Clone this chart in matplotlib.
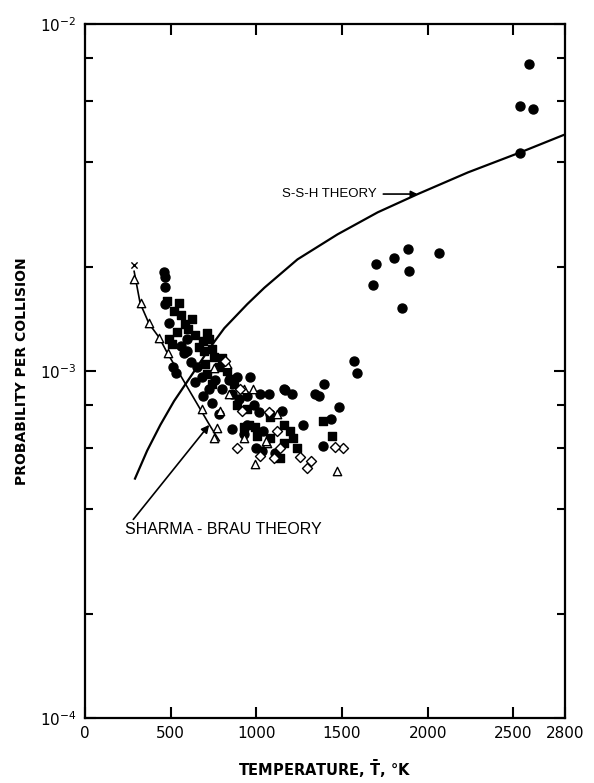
import numpy as np
import matplotlib
matplotlib.use('Agg')
import matplotlib.pyplot as plt
from matplotlib.ticker import LogLocator, NullFormatter

# filled circles
circ_T = [2590, 2540, 2615, 2540, 1700, 1805, 1885, 2065, 1890, 1680, 1850, 1567, 1590,
          1397, 1170, 1210, 1345, 1368, 1485, 1270, 1433, 1386,
          462, 465, 468, 468, 491, 597, 579, 532, 515, 965, 1023, 1076, 1164, 988, 1082,
          889, 842, 947, 1018, 1041, 947, 597, 655, 725, 1152, 1035,
          560, 620, 680, 760, 800, 860, 900, 640, 690, 742, 780, 860, 1000, 1110, 930]
circ_P = [7.7e-3, 5.8e-3, 5.7e-3, 4.25e-3, 2.03e-3, 2.12e-3, 2.25e-3, 2.19e-3, 1.95e-3, 1.77e-3, 1.52e-3, 1.07e-3, 9.9e-4,
          9.2e-4, 8.8e-4, 8.6e-4, 8.6e-4, 8.5e-4, 7.9e-4, 7.0e-4, 7.3e-4, 6.1e-4,
          1.93e-3, 1.87e-3, 1.75e-3, 1.56e-3, 1.38e-3, 1.24e-3, 1.13e-3, 9.9e-4, 1.03e-3, 9.6e-4, 8.6e-4, 8.6e-4, 8.9e-4, 8.0e-4, 7.5e-4,
          9.6e-4, 9.4e-4, 8.5e-4, 7.6e-4, 6.7e-4, 7.0e-4, 1.14e-3, 1.03e-3, 8.9e-4, 7.7e-4, 5.9e-4,
          1.18e-3, 1.06e-3, 9.6e-4, 9.4e-4, 8.9e-4, 8.6e-4, 8.3e-4, 9.3e-4, 8.5e-4, 8.1e-4, 7.5e-4, 6.8e-4, 6.0e-4, 5.8e-4, 6.6e-4]

# filled squares
sq_T = [480, 550, 520, 626, 585, 538, 491, 713, 725, 667, 696, 754, 509, 801, 713, 742,
        848, 871, 889, 947, 959, 1082, 1006, 1164, 1386, 1444, 1082, 1164, 1199, 1211, 1240, 1140,
        560, 600, 640, 690, 740, 780, 830, 700, 930, 990]
sq_P = [1.59e-3, 1.57e-3, 1.49e-3, 1.41e-3, 1.37e-3, 1.30e-3, 1.24e-3, 1.29e-3, 1.24e-3, 1.17e-3, 1.14e-3, 1.10e-3, 1.20e-3, 1.09e-3, 9.8e-4, 9.2e-4,
        9.5e-4, 9.2e-4, 8.0e-4, 7.8e-4, 7.0e-4, 6.4e-4, 6.5e-4, 6.2e-4, 7.2e-4, 6.5e-4, 7.4e-4, 7.0e-4, 6.7e-4, 6.4e-4, 6.0e-4, 5.6e-4,
        1.45e-3, 1.32e-3, 1.27e-3, 1.22e-3, 1.16e-3, 1.03e-3, 1.0e-3, 1.05e-3, 6.9e-4, 6.9e-4]

# open triangles
tri_T = [287, 327, 374, 433, 485, 754, 830, 930, 842, 684, 790, 772, 754, 930, 1064,
         994, 1123, 1058, 1468, 978]
tri_P = [1.84e-3, 1.57e-3, 1.38e-3, 1.25e-3, 1.13e-3, 1.02e-3, 1.05e-3, 8.9e-4, 8.6e-4, 7.8e-4, 7.7e-4, 6.85e-4, 6.4e-4, 6.4e-4, 6.2e-4,
         5.4e-4, 7.5e-4, 6.3e-4, 5.15e-4, 8.9e-4]

# open diamonds
dia_T = [819, 906, 918, 1076, 889, 1023, 1123, 1105, 1503, 1456, 1257, 1298, 1316, 1140]
dia_P = [1.07e-3, 8.9e-4, 7.7e-4, 7.6e-4, 6.0e-4, 5.7e-4, 6.7e-4, 5.6e-4, 6.0e-4, 6.05e-4, 5.65e-4, 5.25e-4, 5.5e-4, 6.0e-4]

# cross
x_T = [287]
x_P = [2.02e-3]

# theory curves
ssh_T = [292, 363, 440, 520, 638, 730, 813, 947, 1047, 1240, 1474, 1708, 1942, 2234, 2544, 2790]
ssh_P = [4.9e-4, 5.9e-4, 7.0e-4, 8.2e-4, 1.0e-3, 1.17e-3, 1.33e-3, 1.56e-3, 1.74e-3, 2.1e-3, 2.48e-3,
         2.87e-3, 3.24e-3, 3.74e-3, 4.28e-3, 4.79e-3]

sb_T = [287, 322, 374, 433, 480, 597, 731, 784]
sb_P = [1.94e-3, 1.57e-3, 1.37e-3, 1.25e-3, 1.13e-3, 9.0e-4, 6.94e-4, 6.3e-4]

plt.rcParams['font.family'] = ['DejaVu Sans']

fig = plt.figure(figsize=(5.94, 7.83), dpi=100)
ax = fig.add_axes([0.143, 0.083, 0.808, 0.886])

ax.plot(ssh_T, ssh_P, color='black', lw=1.6)
ax.plot(sb_T, sb_P, color='black', lw=1.2)

ax.scatter(circ_T, circ_P, marker='o', s=42, color='black', zorder=3)
ax.scatter(sq_T, sq_P, marker='s', s=36, color='black', zorder=3)
ax.scatter(tri_T, tri_P, marker='^', s=36, facecolor='white', edgecolor='black', linewidths=1.0, zorder=4)
ax.scatter(dia_T, dia_P, marker='D', s=26, facecolor='white', edgecolor='black', linewidths=1.0, zorder=4)
ax.scatter(x_T, x_P, marker='x', s=20, color='black', linewidths=1.0, zorder=4)

ax.annotate('S-S-H THEORY', xy=(1940, 3.24e-3), xytext=(1700, 3.24e-3),
            ha='right', va='center', fontsize=9.5, family='Liberation Sans',
            arrowprops=dict(arrowstyle='-|>', color='black', lw=1.2, shrinkA=3, shrinkB=0))
ax.annotate('SHARMA - BRAU THEORY', xy=(725, 7.0e-4), xytext=(234, 3.49e-4),
            ha='left', va='center', fontsize=11.5, family='Liberation Sans',
            arrowprops=dict(arrowstyle='-|>', color='black', lw=1.2, shrinkA=0, shrinkB=0, relpos=(0, 0.5)))

ax.set_yscale('log')
ax.set_xlim(0, 2800)
ax.set_ylim(1e-4, 1e-2)

ax.set_xticks([0, 500, 1000, 1500, 2000, 2500, 2800])
ax.set_xticklabels(['0', '500', '1000', '1500', '2000', '2500', '2800'], fontsize=11)
ax.set_yticks([1e-4, 1e-3, 1e-2])
ax.set_yticklabels(['10$^{-4}$', '10$^{-3}$', '10$^{-2}$'], fontsize=11)
ax.yaxis.set_minor_locator(LogLocator(base=10, subs=[2, 4, 6, 8]))
ax.yaxis.set_minor_formatter(NullFormatter())

ax.tick_params(which='both', direction='in', top=True, right=True, width=1.5)
ax.tick_params(which='major', length=8, pad=6)
ax.tick_params(which='minor', length=6)
for s in ax.spines.values():
    s.set_linewidth(1.6)

ax.set_xlabel('TEMPERATURE, $\\mathbf{\\bar{T}}$, °K', fontsize=10.5, fontweight='bold', labelpad=12)
ax.set_ylabel('PROBABILITY PER COLLISION', fontsize=10, fontweight='bold', labelpad=8)

fig.savefig('out.png', dpi=100)
